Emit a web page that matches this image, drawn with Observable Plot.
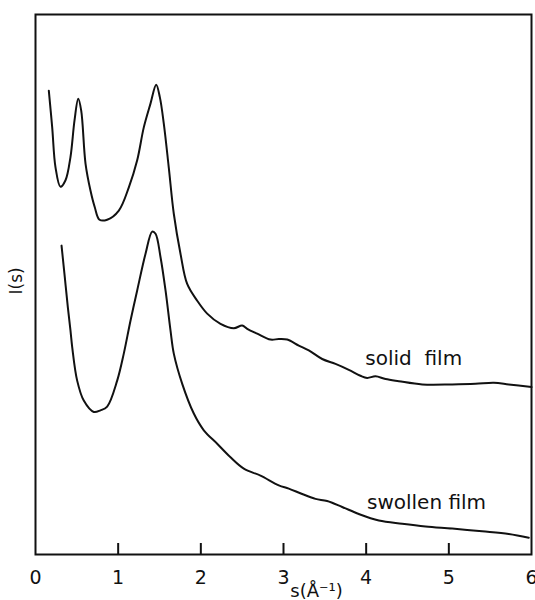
<!DOCTYPE html>
<html>
<head>
<meta charset="utf-8">
<script src="https://cdn.jsdelivr.net/npm/d3@7"></script>
<script src="https://cdn.jsdelivr.net/npm/@observablehq/plot@0.6"></script>
<style>
  html, body { margin: 0; padding: 0; background: #fff; overflow: hidden; }
</style>
</head>
<body>
<div id="chart"></div>
<script>
// Scattered intensity I(s) in arbitrary units versus s (Å⁻¹)
const solidS = [0.161, 0.202, 0.242, 0.302, 0.363, 0.423, 0.472, 0.517, 0.553, 0.605, 0.665, 0.717, 0.774, 0.867, 1.008, 1.129, 1.230, 1.310, 1.391, 1.460, 1.504, 1.552, 1.612, 1.673, 1.754, 1.835, 1.956, 2.077, 2.238, 2.399, 2.500, 2.561, 2.682, 2.843, 2.943, 3.045, 3.185, 3.306, 3.468, 3.629, 3.790, 3.931, 4.012, 4.113, 4.234, 4.395, 4.678, 5.041, 5.322, 5.544, 5.725, 6.0];
const solidI = [85.9, 79.1, 71.7, 68.1, 69.3, 73.6, 80.4, 84.4, 82.2, 72.4, 67.4, 64.3, 62.0, 62.0, 63.7, 68.0, 73.0, 79.1, 83.5, 87.0, 84.7, 79.8, 71.7, 63.1, 55.7, 50.1, 47.0, 44.6, 42.7, 41.9, 42.4, 41.8, 40.9, 39.8, 39.9, 39.8, 38.7, 37.8, 36.2, 35.3, 34.2, 33.1, 32.7, 33.0, 32.5, 32.1, 31.5, 31.5, 31.6, 31.8, 31.5, 31.0];

const swollenS = [0.315, 0.354, 0.391, 0.423, 0.444, 0.504, 0.584, 0.705, 0.786, 0.867, 0.988, 1.068, 1.149, 1.230, 1.331, 1.412, 1.452, 1.512, 1.573, 1.633, 1.673, 1.775, 1.915, 2.036, 2.198, 2.359, 2.520, 2.722, 2.943, 3.064, 3.226, 3.387, 3.528, 3.710, 3.911, 4.153, 4.436, 4.718, 5.041, 5.403, 5.725, 5.967];
const swollenI = [57.2, 51.4, 45.8, 41.5, 38.4, 32.2, 28.5, 26.4, 26.7, 27.4, 32.2, 37.2, 43.3, 48.9, 55.7, 59.8, 59.4, 55.1, 48.9, 41.5, 37.2, 31.6, 26.1, 23.0, 20.5, 18.0, 15.9, 14.6, 12.8, 12.2, 11.2, 10.3, 9.9, 8.8, 7.5, 6.3, 5.7, 5.2, 4.8, 4.3, 3.8, 3.1];

const xTicks = [0, 1, 2, 3, 4, 5, 6];
const innerTicks = [1, 2, 3, 4, 5];

const curveLabels = ["solid  film", "swollen film"];
const labelS = [3.99, 4.01];
const labelI = [36.2, 9.6];

const solid = solidS.map((s, i) => ({s, I: solidI[i]}));
const swollen = swollenS.map((s, i) => ({s, I: swollenI[i]}));
const labels = curveLabels.map((text, i) => ({text, s: labelS[i], I: labelI[i]}));

const W = 535, H = 600;
const M = {top: 14, right: 4, bottom: 46, left: 35};
const innerH = H - M.top - M.bottom;

const chart = Plot.plot({
  width: W,
  height: H,
  marginTop: M.top,
  marginRight: M.right,
  marginBottom: M.bottom,
  marginLeft: M.left,
  style: {fontFamily: "DejaVu Sans, sans-serif", fontSize: "18px", color: "#111", background: "#fff", overflow: "visible"},
  x: {domain: [0, 6]},
  y: {domain: [0, 100], axis: null},
  marks: [
    Plot.frame({stroke: "#111", strokeWidth: 2}),
    // inward tick marks along the bottom edge
    Plot.tickX(innerTicks, {x: d => d, stroke: "#111", strokeWidth: 2, insetTop: innerH - 11}),
    Plot.axisX(xTicks, {tickSize: 0, tickPadding: 16, tickFormat: d => String(d), label: null, fontSize: 19, fill: "#111"}),
    Plot.text(["s(Å⁻¹)"], {frameAnchor: "bottom", dx: 33, dy: 42, fontSize: 18, fill: "#111"}),
    Plot.text(["I(s)"], {frameAnchor: "left", dx: -19, dy: 10, rotate: -90, fontSize: 17, fill: "#111"}),
    Plot.line(solid, {x: "s", y: "I", curve: "catmull-rom", stroke: "#111", strokeWidth: 2}),
    Plot.line(swollen, {x: "s", y: "I", curve: "catmull-rom", stroke: "#111", strokeWidth: 2}),
    Plot.text(labels, {x: "s", y: "I", text: "text", textAnchor: "start", fontSize: 20, fill: "#111"})
  ]
});

document.getElementById("chart").append(chart);
</script>
</body>
</html>
